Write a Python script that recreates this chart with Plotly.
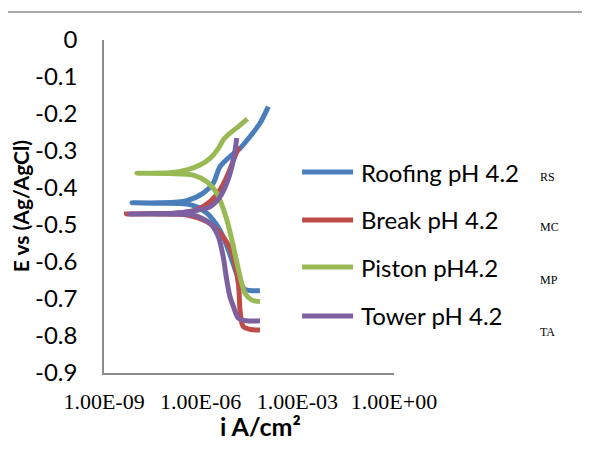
import plotly.graph_objects as go

# ---- data (log10 of current density A/cm2, potential V vs Ag/AgCl) ----
series_names = ["Roofing pH 4.2", "Break pH 4.2", "Piston pH4.2", "Tower pH 4.2"]
series_subs = ["RS", "MC", "MP", "TA"]
series_colors = ["#4A7EBB", "#BE4B48", "#98B954", "#7D60A0"]

roof_log_i = [-4.16, -4.62, -4.78, -4.98, -5.14, -5.30, -5.50, -5.81, -6.12, -6.43, -7.26, -8.13,
              -7.26, -6.43, -5.92, -5.61, -5.40, -5.09, -4.78, -4.47, -4.16, -3.90]
roof_E = [-0.678, -0.674, -0.654, -0.608, -0.568, -0.532, -0.500, -0.468, -0.451, -0.443, -0.441, -0.440,
          -0.440, -0.434, -0.414, -0.387, -0.342, -0.315, -0.293, -0.261, -0.225, -0.180]

break_log_i = [-4.16, -4.47, -4.67, -4.72, -4.78, -4.83, -5.06, -5.40, -5.81, -6.43, -7.26, -8.30,
               -7.26, -6.85, -6.12, -5.71, -5.40, -5.14, -4.98, -4.81]
break_E = [-0.784, -0.782, -0.775, -0.766, -0.730, -0.658, -0.568, -0.522, -0.491, -0.473, -0.470, -0.470,
           -0.469, -0.469, -0.459, -0.437, -0.405, -0.360, -0.324, -0.288]

piston_log_i = [-4.16, -4.41, -4.62, -4.75, -4.88, -5.03, -5.19, -5.40, -5.50, -5.81, -6.23, -6.95, -7.98,
                -6.95, -6.43, -6.02, -5.71, -5.45, -5.30, -5.09, -4.83, -4.55]
piston_E = [-0.707, -0.703, -0.685, -0.649, -0.600, -0.541, -0.486, -0.432, -0.414, -0.383, -0.365, -0.361, -0.360,
            -0.359, -0.351, -0.338, -0.320, -0.293, -0.270, -0.252, -0.234, -0.213]

tower_log_i = [-4.16, -4.57, -4.83, -4.98, -5.09, -5.19, -5.30, -5.45, -5.71, -6.23, -6.95, -8.20,
               -6.95, -6.23, -5.71, -5.40, -5.19, -5.03, -4.93, -4.88]
tower_E = [-0.759, -0.759, -0.752, -0.721, -0.694, -0.649, -0.586, -0.532, -0.495, -0.473, -0.470, -0.470,
           -0.469, -0.462, -0.451, -0.424, -0.387, -0.342, -0.297, -0.265]

x_tick_vals = [1e-9, 1e-6, 1e-3, 1e0]
x_tick_text = ["1.00E-09", "1.00E-06", "1.00E-03", "1.00E+00"]
y_tick_vals = [0, -0.1, -0.2, -0.3, -0.4, -0.5, -0.6, -0.7, -0.8, -0.9]
y_tick_text = ["0", "-0.1", "-0.2", "-0.3", "-0.4", "-0.5", "-0.6", "-0.7", "-0.8", "-0.9"]

all_log_i = [roof_log_i, break_log_i, piston_log_i, tower_log_i]
all_E = [roof_E, break_E, piston_E, tower_E]

fig = go.Figure()
for name, color, li, e in zip(series_names, series_colors, all_log_i, all_E):
    fig.add_trace(go.Scatter(
        x=[10 ** v for v in li], y=e, mode="lines", name=name,
        line=dict(color=color, width=5, shape="spline", smoothing=0.8),
        showlegend=False, hoverinfo="x+y+name"))

SANS = "Lato, 'Liberation Sans', sans-serif"
SERIF = "'Liberation Serif', serif"
AX = "#8C8C8C"

fig.update_layout(
    width=590, height=461,
    margin=dict(l=96, r=204, t=32, b=96),
    paper_bgcolor="white", plot_bgcolor="white",
    showlegend=False,
    xaxis=dict(type="log", range=[-9, 0], showgrid=False, zeroline=False,
               showline=True, linecolor=AX, linewidth=1.5,
               tickvals=x_tick_vals, ticktext=x_tick_text,
               ticks="outside", ticklen=8, tickcolor="rgba(0,0,0,0)",
               tickfont=dict(family=SERIF, size=22, color="black")),
    yaxis=dict(range=[-0.9, 0], showgrid=False, zeroline=False,
               showline=True, linecolor=AX, linewidth=1.5,
               tickvals=y_tick_vals, ticktext=y_tick_text,
               ticks="outside", ticklen=20, tickcolor="rgba(0,0,0,0)",
               tickfont=dict(family=SANS, size=24, color="black")),
)

# frame line at top of chart
fig.add_shape(type="line", xref="paper", yref="paper", x0=-0.331, x1=1.7, y0=1.084, y1=1.084,
              line=dict(color=AX, width=1.5))

# axis titles
fig.add_annotation(text="<b>E vs (Ag/AgCl)</b>", xref="paper", yref="paper", x=-0.287, y=0.50,
                   xanchor="center", yanchor="middle", borderpad=0,
                   textangle=-90, showarrow=False, font=dict(family=SANS, size=21, color="black"))
fig.add_annotation(text="<b>i A/cm²</b>", xref="paper", yref="paper", x=0.54, y=-0.158,
                   xanchor="center", yanchor="middle", borderpad=0,
                   showarrow=False, font=dict(family=SANS, size=25, color="black"))

# legend (drawn manually to match sample length)
leg_y = [0.6036, 0.4595, 0.3183, 0.1712]
sub_y = [0.5886, 0.4384, 0.2793, 0.1231]
for name, sub, color, yl, ys in zip(series_names, series_subs, series_colors, leg_y, sub_y):
    fig.add_shape(type="line", xref="paper", yref="paper", x0=0.683, x1=0.859, y0=yl, y1=yl,
                  line=dict(color=color, width=5))
    fig.add_annotation(text=name, xref="paper", yref="paper", x=0.88, y=yl, xanchor="left",
                       yanchor="middle", showarrow=False, font=dict(family=SANS, size=24, color="black"))
    fig.add_annotation(text=sub, xref="paper", yref="paper", x=1.497, y=ys, xanchor="left",
                       yanchor="middle", showarrow=False, font=dict(family=SERIF, size=12, color="black"))

fig.write_html("out.html")
